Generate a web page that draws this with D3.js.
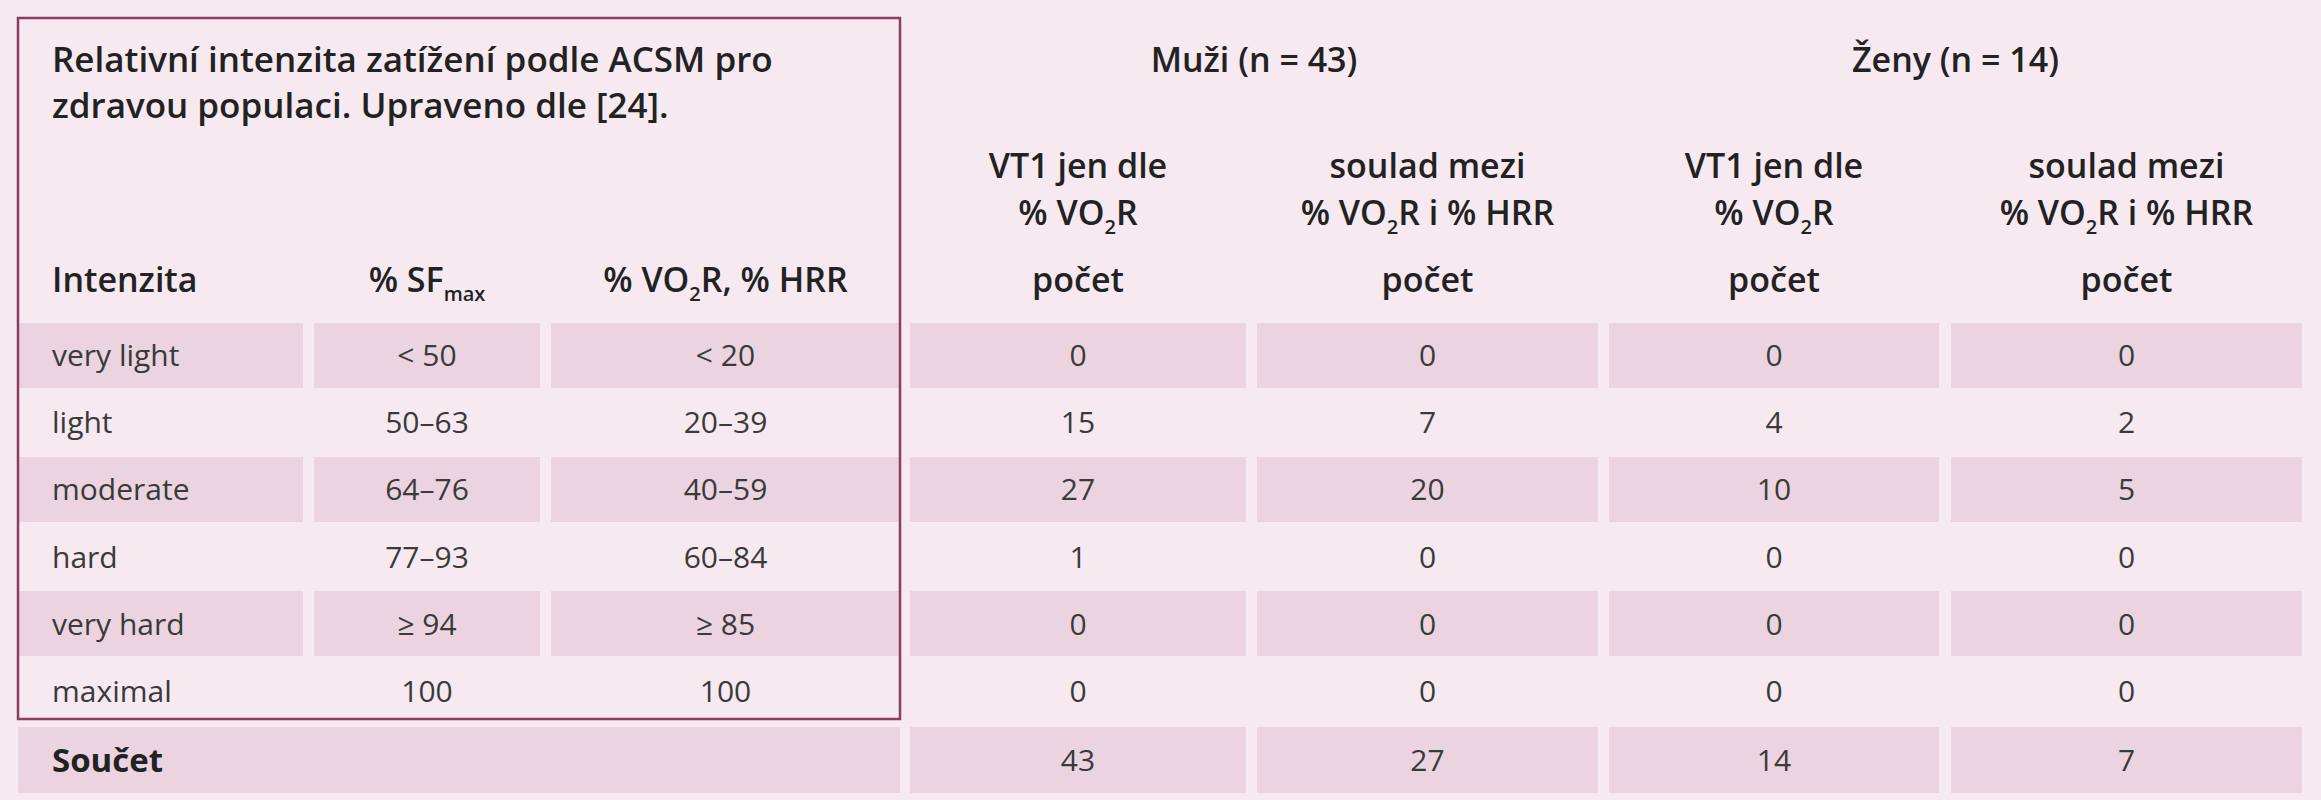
<!DOCTYPE html>
<html><head><meta charset="utf-8">
<script src="https://cdn.jsdelivr.net/npm/d3@7"></script>
<style>body{margin:0;background:#f6e9f0}</style></head>
<body><svg id="c" width="2321" height="800"></svg>
<script>
const intensities = ["very light","light","moderate","hard","very hard","maximal"];
const sfMax = ["< 50","50–63","64–76","77–93","≥ 94","100"];
const vo2r = ["< 20","20–39","40–59","60–84","≥ 85","100"];
const menVT1 = [0,15,27,1,0,0];
const menBoth = [0,7,20,0,0,0];
const womenVT1 = [0,4,10,0,0,0];
const womenBoth = [0,2,5,0,0,0];
const totals = [43,27,14,7];
const groupLabels = ["Muži (n = 43)","Ženy (n = 14)"];
const title = ["Relativní intenzita zatížení podle ACSM pro","zdravou populaci. Upraveno dle [24]."];

const svg = d3.select("#c");
const F = "'Open Sans', sans-serif";
const shade = "#ebd4df", txt = "#3a3a3a", border = "#8a3d5e";
svg.append("rect").attr("width",2321).attr("height",800).attr("fill","#f6e9f0");

const cols = [[18,303],[314,540],[551,900],[910,1246],[1257,1598],[1609,1939],[1951,2302]];
const y = d3.scaleBand().domain(d3.range(7)).range([323,790]).paddingInner(0.03);
const rowsData = intensities.map((d,i)=>[d,sfMax[i],vo2r[i],menVT1[i],menBoth[i],womenVT1[i],womenBoth[i]]);

[0,2,4].forEach(r=>{
  cols.forEach(c=>svg.append("rect").attr("x",c[0]).attr("y",y(r)).attr("width",c[1]-c[0]).attr("height",y.bandwidth()).attr("fill",shade));
});
svg.append("rect").attr("x",18).attr("y",727).attr("width",900-18).attr("height",66).attr("fill",shade);
cols.slice(3).forEach(c=>svg.append("rect").attr("x",c[0]).attr("y",727).attr("width",c[1]-c[0]).attr("height",66).attr("fill",shade));

svg.append("rect").attr("x",18).attr("y",18).attr("width",882).attr("height",701).attr("fill","none").attr("stroke",border).attr("stroke-width",2.5);

const cx = c=>(c[0]+c[1])/2;
rowsData.forEach((row,r)=>{
  const by = y(r)+y.bandwidth()/2+11;
  row.forEach((v,j)=>{
    svg.append("text").attr("x", j===0?52:cx(cols[j])).attr("y",by)
      .attr("text-anchor", j===0?"start":"middle").attr("font-family",F).attr("font-size",30).attr("fill",txt).text(v);
  });
});
svg.append("text").attr("x",52).attr("y",772).attr("font-family",F).attr("font-size",33).attr("font-weight",700).attr("fill","#222").text("Součet");
totals.forEach((t,i)=>svg.append("text").attr("x",cx(cols[i+3])).attr("y",771).attr("text-anchor","middle").attr("font-family",F).attr("font-size",30).attr("fill",txt).text(t));

title.forEach((t,i)=>svg.append("text").attr("x",52).attr("y",72+i*46).attr("font-family",F).attr("font-size",35).attr("font-weight",600).attr("fill","#222").text(t));
[ (cols[3][0]+cols[4][1])/2, (cols[5][0]+cols[6][1])/2 ].forEach((x,i)=>
  svg.append("text").attr("x",x).attr("y",72).attr("text-anchor","middle").attr("font-family",F).attr("font-size",34).attr("font-weight",600).attr("fill","#222").text(groupLabels[i]));

function hdr(x,yy,parts,anchor){
  const t = svg.append("text").attr("x",x).attr("y",yy).attr("text-anchor",anchor||"middle").attr("font-family",F).attr("font-size",34).attr("font-weight",600).attr("fill","#222");
  parts.forEach(p=>{
    const s=t.append("tspan").text(p[0]);
    if(p[1]==="sub") s.attr("font-size",20).attr("dy",9);
    if(p[2]) s.attr("dy",p[2]);
  });
}
hdr(52,292,[["Intenzita"]],"start");
hdr(cx(cols[1]),292,[["% SF"],["max","sub"]]);
hdr(cx(cols[2]),292,[["% VO"],["2","sub"],["R, % HRR",null,-9]]);
[3,5].forEach(j=>{
  hdr(cx(cols[j]),178,[["VT1 jen dle"]]);
  hdr(cx(cols[j]),225,[["% VO"],["2","sub"],["R",null,-9]]);
});
[4,6].forEach(j=>{
  hdr(cx(cols[j]),178,[["soulad mezi"]]);
  hdr(cx(cols[j]),225,[["% VO"],["2","sub"],["R i % HRR",null,-9]]);
});
[3,4,5,6].forEach(j=>hdr(cx(cols[j]),292,[["počet"]]));
</script></body></html>
